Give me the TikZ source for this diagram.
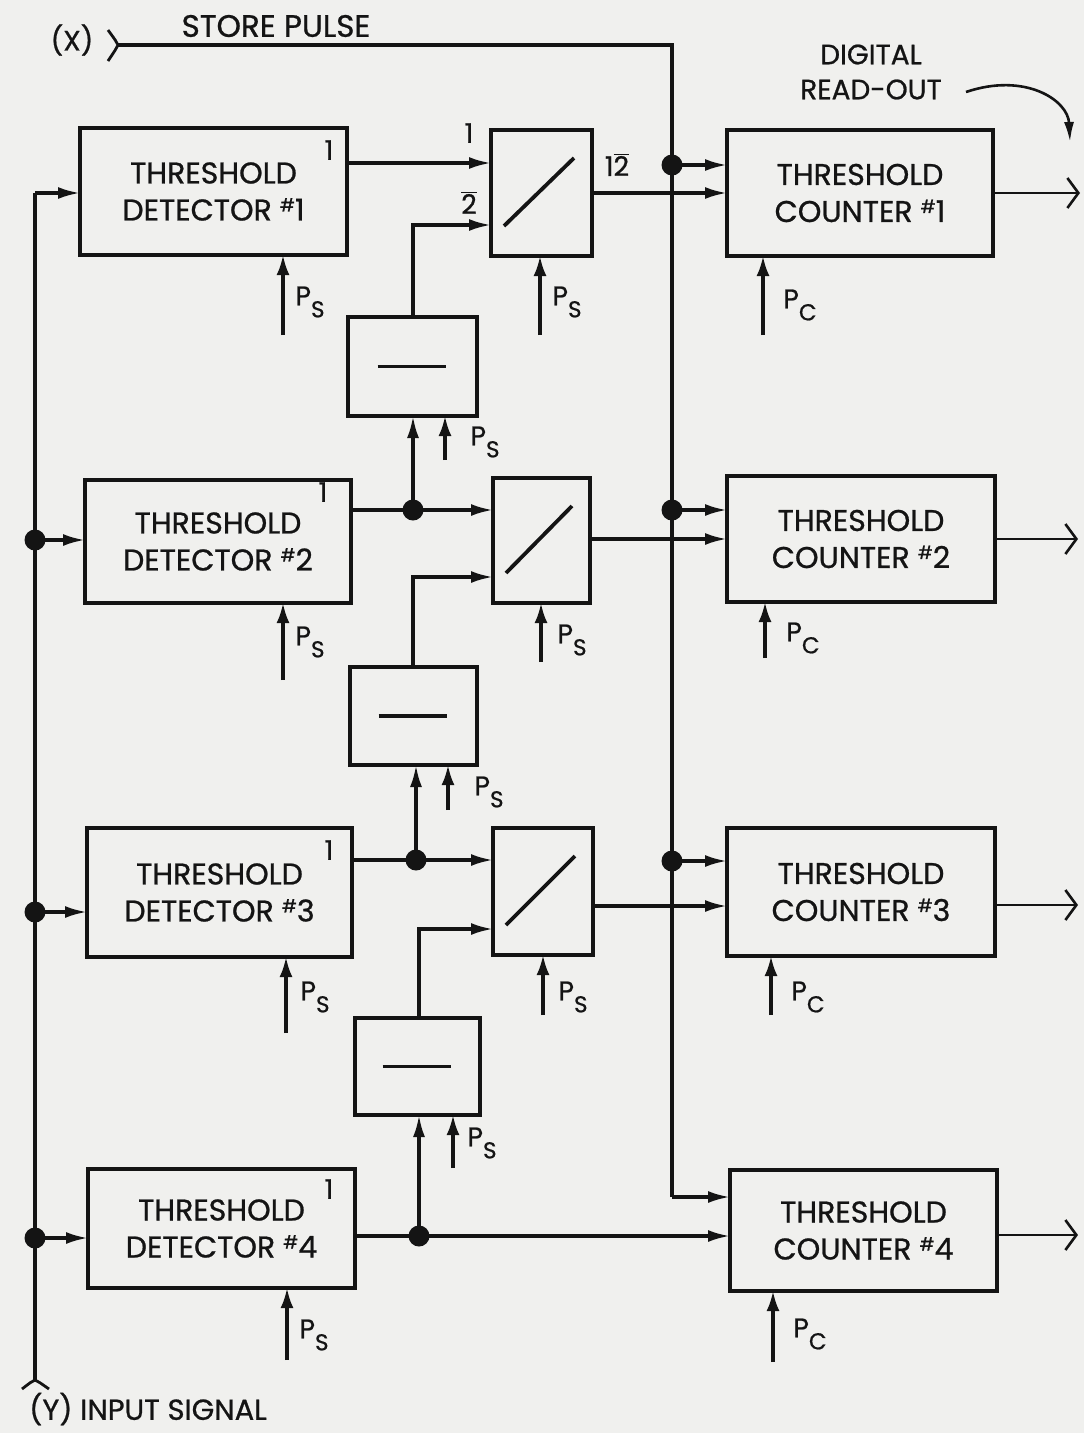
\documentclass[tikz,border=0pt]{standalone}
\usepackage{fontspec}
\setmainfont{Poppins}[FakeBold=0.8]
\usetikzlibrary{arrows.meta}
\definecolor{paper}{RGB}{240,240,238}
\definecolor{ink}{RGB}{20,20,20}
\newcommand\hashnum[1]{\raisebox{9pt}{\fontsize{18}{18}\selectfont\#}#1}
\newcommand\psub[1]{P\raisebox{-12pt}{\fontsize{23}{23}\selectfont #1}}
\begin{document}
\begin{tikzpicture}[x=1pt,y=-1pt,
  blk/.style={draw=ink, line width=3.6pt, inner sep=0pt, outer sep=0pt, align=center, text=ink, font=\fontsize{30}{37}\selectfont},
  conn/.style={draw=ink, line width=3.2pt},
  arr/.style={conn, -{Latex[length=22pt,width=12pt]}},
  pin/.style={conn, -{Latex[length=20pt,width=13pt]}},
  jdot/.style={circle, fill=ink, inner sep=0pt, minimum size=21pt},
  outarr/.style={draw=ink, line width=2.6pt, -{Straight Barb[length=11pt,width=30pt,line width=2.6pt]}},
  plbl/.style={inner sep=0pt, text=ink, font=\fontsize{27}{27}\selectfont},
  lbl/.style={inner sep=0pt, text=ink, font=\fontsize{28}{35}\selectfont, align=center},
  one/.style={inner sep=0pt, text=ink, font=\fontsize{27}{27}\selectfont}]
\path[use as bounding box, fill=paper] (0,0) rectangle (1084,1433);

% ---- blocks ----
\node[blk, minimum width=267pt, minimum height=127pt] (D1) at (213.5,191.5) {THRESHOLD\\DETECTOR \hashnum{1}};
\node[blk, minimum width=266pt, minimum height=123pt] (D2) at (218,541.5) {THRESHOLD\\DETECTOR \hashnum{2}};
\node[blk, minimum width=265pt, minimum height=129pt] (D3) at (219.5,892.5) {THRESHOLD\\DETECTOR \hashnum{3}};
\node[blk, minimum width=267pt, minimum height=119pt] (D4) at (221.5,1228.5) {THRESHOLD\\DETECTOR \hashnum{4}};

\node[blk, minimum width=101pt, minimum height=126pt] (G1) at (541.5,193) {};
\node[blk, minimum width=97pt, minimum height=125pt] (G2) at (541.5,540.5) {};
\node[blk, minimum width=100pt, minimum height=127pt] (G3) at (543,891.5) {};

\node[blk, minimum width=129pt, minimum height=99pt] (I1) at (412.5,366.5) {};
\node[blk, minimum width=127pt, minimum height=98pt] (I2) at (413.5,716) {};
\node[blk, minimum width=125pt, minimum height=97pt] (I3) at (417.5,1066.5) {};

\node[blk, minimum width=266pt, minimum height=126pt] (C1) at (860,193) {THRESHOLD\\COUNTER \hashnum{1}};
\node[blk, minimum width=268pt, minimum height=126pt] (C2) at (861,539) {THRESHOLD\\COUNTER \hashnum{2}};
\node[blk, minimum width=268pt, minimum height=128pt] (C3) at (861,892) {THRESHOLD\\COUNTER \hashnum{3}};
\node[blk, minimum width=267pt, minimum height=121pt] (C4) at (863.5,1230.5) {THRESHOLD\\COUNTER \hashnum{4}};

% gate slashes and inverter bars
\foreach \g in {G1,G2,G3}{
  \draw[ink, line width=3.8pt] ([shift={(13,-30)}]\g.south west) -- ([shift={(-18,28)}]\g.north east);
}
\foreach \i in {I1,I2,I3}{
  \draw[ink, line width=3.8pt] ([xshift=-35pt]\i.center) -- ([xshift=33pt]\i.center);
}

% ---- coordinates ----
\coordinate (X) at (118,45);
\coordinate (SC) at (672,45);
\coordinate (S1) at (672,165);
\coordinate (S2) at (672,510);
\coordinate (S3) at (672,861);
\coordinate (S4) at (672,1197);
\coordinate (Ytop) at (35,193);
\coordinate (Y2) at (35,540);
\coordinate (Y3) at (35,912);
\coordinate (Y4) at (35,1238);
\coordinate (Ybot) at (35,1380);
\coordinate (L1a) at (0,163);
\coordinate (L1b) at (0,225);
\coordinate (L1o) at (0,193);
\coordinate (L2b) at (0,577);
\coordinate (L2o) at (0,539);
\coordinate (L3b) at (0,929);
\coordinate (L3o) at (0,906);
\coordinate (J2) at (413,510);
\coordinate (J3) at (416,860);
\coordinate (J4) at (419,1236);

% ---- input signal bus ----
\draw[conn] (Ybot) -- (Ytop);
\draw[ink, line width=2.8pt] ([shift={(-13,9)}]Ybot) .. controls ([shift={(-4,2)}]Ybot) .. (Ybot) .. controls ([shift={(4,2)}]Ybot) .. ([shift={(14,9)}]Ybot);
\draw[arr] (Ytop) -- (D1.west |- Ytop);
\draw[arr] (Y2) -- (D2.west |- Y2);
\draw[arr] (Y3) -- (D3.west |- Y3);
\draw[arr] (Y4) -- (D4.west |- Y4);
\node[jdot] (y2d) at (Y2) {};
\node[jdot] (y3d) at (Y3) {};
\node[jdot] (y4d) at (Y4) {};

% ---- store pulse bus ----
\draw[conn] (X) -- (SC) -- (S4);
\draw[ink, line width=2.8pt] ([shift={(-10,-15)}]X) .. controls ([shift={(-2,-4)}]X) .. (X) .. controls ([shift={(-2,4)}]X) .. ([shift={(-10,16)}]X);
\draw[arr] (S1) -- (C1.west |- S1);
\draw[arr] (S2) -- (C2.west |- S2);
\draw[arr] (S3) -- (C3.west |- S3);
\draw[arr] (S4) -- (C4.west |- S4);
\node[jdot] (s1d) at (S1) {};
\node[jdot] (s2d) at (S2) {};
\node[jdot] (s3d) at (S3) {};

% ---- detector outputs ----
\draw[arr] (D1.east |- L1a) -- (G1.west |- L1a);
\draw[conn] (D2.east |- J2) -- (J2);
\draw[arr] (J2) -- (G2.west |- J2);
\draw[arr] (J2) -- (I1.south -| J2);
\draw[conn] (D3.east |- J3) -- (J3);
\draw[arr] (J3) -- (G3.west |- J3);
\draw[arr] (J3) -- (I2.south -| J3);
\draw[conn] (D4.east |- J4) -- (J4);
\draw[arr] (J4) -- (C4.west |- J4);
\draw[arr] (J4) -- (I3.south -| J4);
\node[jdot] (j2d) at (J2) {};
\node[jdot] (j3d) at (J3) {};
\node[jdot] (j4d) at (J4) {};

% ---- inverter outputs to gates ----
\draw[arr] (I1.north -| J2) -- (J2 |- L1b) -- (G1.west |- L1b);
\draw[arr] (I2.north -| J2) -- (J2 |- L2b) -- (G2.west |- L2b);
\draw[arr] (I3.north -| J4) -- (J4 |- L3b) -- (G3.west |- L3b);

% ---- gate outputs ----
\draw[arr] (G1.east |- L1o) -- (C1.west |- L1o);
\draw[arr] (G2.east |- L2o) -- (C2.west |- L2o);
\draw[arr] (G3.east |- L3o) -- (C3.west |- L3o);

% ---- counter outputs ----
\coordinate (O1) at (1080,193);
\coordinate (O2) at (1078,539);
\coordinate (O3) at (1078,905);
\coordinate (O4) at (1078,1235);
\draw[outarr] (C1.east |- O1) -- (O1);
\draw[outarr] (C2.east |- O2) -- (O2);
\draw[outarr] (C3.east |- O3) -- (O3);
\draw[outarr] (C4.east |- O4) -- (O4);

% ---- clock pulses ----
\coordinate (pD1) at (283,335);
\coordinate (pD2) at (283,680);
\coordinate (pD3) at (286,1033);
\coordinate (pD4) at (287,1360);
\coordinate (pG1) at (540,335);
\coordinate (pG2) at (541,662);
\coordinate (pG3) at (543,1015);
\coordinate (pI1) at (445,460);
\coordinate (pI2) at (448,810);
\coordinate (pI3) at (453,1168);
\coordinate (pC1) at (763,335);
\coordinate (pC2) at (765,658);
\coordinate (pC3) at (771,1015);
\coordinate (pC4) at (773,1362);
\draw[pin] (pD1) -- (D1.south -| pD1);
\draw[pin] (pD2) -- (D2.south -| pD2);
\draw[pin] (pD3) -- (D3.south -| pD3);
\draw[pin] (pD4) -- (D4.south -| pD4);
\draw[pin] (pG1) -- (G1.south -| pG1);
\draw[pin] (pG2) -- (G2.south -| pG2);
\draw[pin] (pG3) -- (G3.south -| pG3);
\draw[pin] (pI1) -- (I1.south -| pI1);
\draw[pin] (pI2) -- (I2.south -| pI2);
\draw[pin] (pI3) -- (I3.south -| pI3);
\draw[pin] (pC1) -- (C1.south -| pC1);
\draw[pin] (pC2) -- (C2.south -| pC2);
\draw[pin] (pC3) -- (C3.south -| pC3);
\draw[pin] (pC4) -- (C4.south -| pC4);

\node[plbl] (tD1) at (310,302) {\psub{S}};
\node[plbl] (tD2) at (310,642) {\psub{S}};
\node[plbl] (tD3) at (315,997) {\psub{S}};
\node[plbl] (tD4) at (314,1335) {\psub{S}};
\node[plbl] (tG1) at (567,302) {\psub{S}};
\node[plbl] (tG2) at (572,640) {\psub{S}};
\node[plbl] (tG3) at (573,997) {\psub{S}};
\node[plbl] (tI1) at (485,442) {\psub{S}};
\node[plbl] (tI2) at (489,792) {\psub{S}};
\node[plbl] (tI3) at (482,1143) {\psub{S}};
\node[plbl] (tC1) at (800,305) {\psub{C}};
\node[plbl] (tC2) at (803,638) {\psub{C}};
\node[plbl] (tC3) at (808,997) {\psub{C}};
\node[plbl] (tC4) at (810,1334) {\psub{C}};

% ---- small labels ----
\node[one] (o1) at (329,150) {1};
\node[one] (o2) at (323,492) {1};
\node[one] (o3) at (329,850) {1};
\node[one] (o4) at (329,1189) {1};
\node[one] (g1a) at (469,133) {1};
\node[one] (g1b) at (469,203) {$\overline{\mbox{2}}$};
\node[one] (g1o) at (617,165) {1$\overline{\mbox{2}}$};

% ---- titles ----
\node[lbl] (xlab) at (72,40) {(X)};
\node[lbl, font=\fontsize{31}{35}\selectfont] (store) at (276,26) {STORE PULSE};
\node[lbl] (dro) at (871,72) {DIGITAL\\READ-OUT};
\node[lbl, font=\fontsize{29}{34}\selectfont] (ylab) at (148,1409) {(Y) INPUT SIGNAL};
\coordinate (cv0) at (966,92);
\coordinate (cv1) at (1070,142);
\draw[ink, line width=2.6pt, -{Latex[length=20pt,width=10pt]}] (cv0) .. controls (1025,72) and (1068,100) .. (cv1);
\end{tikzpicture}
\end{document}
